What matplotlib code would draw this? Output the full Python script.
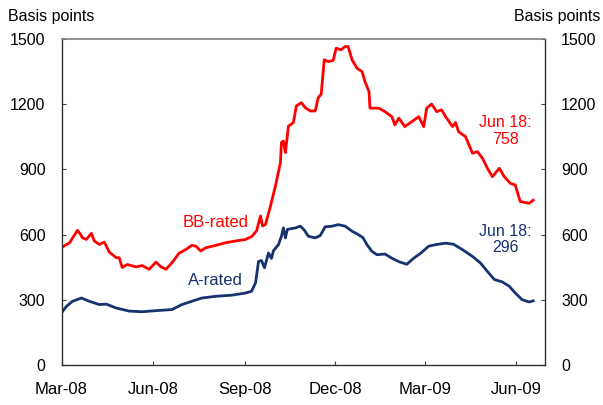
import matplotlib.pyplot as plt
import matplotlib.dates as mdates
import pandas as pd

# BB-rated spread (basis points)
bb_dates = ['2008-03-01', '2008-03-05', '2008-03-09', '2008-03-14', '2008-03-17', '2008-03-20',
            '2008-03-22', '2008-03-26', '2008-03-31', '2008-04-03', '2008-04-08', '2008-04-13',
            '2008-04-18', '2008-04-25', '2008-04-28', '2008-05-01', '2008-05-06', '2008-05-15',
            '2008-05-21', '2008-05-28', '2008-06-04', '2008-06-09', '2008-06-14', '2008-06-20',
            '2008-06-27', '2008-07-04', '2008-07-10', '2008-07-14', '2008-07-19', '2008-07-24',
            '2008-08-03', '2008-08-13', '2008-08-23', '2008-09-02', '2008-09-08', '2008-09-13',
            '2008-09-17', '2008-09-19', '2008-09-22', '2008-09-27', '2008-10-02', '2008-10-07',
            '2008-10-08', '2008-10-10', '2008-10-12', '2008-10-13', '2008-10-15', '2008-10-20',
            '2008-10-23', '2008-10-28', '2008-11-01', '2008-11-06', '2008-11-11', '2008-11-14',
            '2008-11-17', '2008-11-20', '2008-11-24', '2008-11-29', '2008-12-02', '2008-12-07',
            '2008-12-11', '2008-12-14', '2008-12-18', '2008-12-23', '2008-12-28', '2008-12-31',
            '2009-01-04', '2009-01-05', '2009-01-14', '2009-01-20', '2009-01-27', '2009-01-30',
            '2009-02-03', '2009-02-09', '2009-02-16', '2009-02-23', '2009-02-28', '2009-03-03',
            '2009-03-08', '2009-03-13', '2009-03-18', '2009-03-22', '2009-03-29', '2009-04-01',
            '2009-04-04', '2009-04-11', '2009-04-18', '2009-04-23', '2009-04-28', '2009-05-03',
            '2009-05-08', '2009-05-15', '2009-05-20', '2009-05-26', '2009-05-31', '2009-06-05',
            '2009-06-14', '2009-06-18']
bb_values = [540, 552, 562, 598, 620, 602, 586, 578, 606, 571, 555, 566,
             520, 494, 494, 449, 463, 452, 458, 441, 474, 452, 441, 471,
             514, 532, 551, 547, 525, 540, 551, 563, 571, 578, 591, 617,
             686, 640, 647, 731, 824, 930, 1023, 1030, 977, 1015, 1098, 1115,
             1191, 1206, 1183, 1168, 1168, 1229, 1245, 1403, 1395, 1400, 1456, 1449,
             1464, 1464, 1403, 1364, 1349, 1303, 1257, 1181, 1181, 1165, 1142, 1104,
             1135, 1096, 1119, 1142, 1096, 1181, 1200, 1165, 1173, 1142, 1096, 1115,
             1073, 1050, 974, 981, 951, 905, 866, 905, 866, 836, 828, 752,
             744, 758]

# A-rated spread (basis points)
a_dates = ['2008-03-01', '2008-03-06', '2008-03-12', '2008-03-21', '2008-03-29', '2008-04-08',
           '2008-04-15', '2008-04-25', '2008-05-08', '2008-05-21', '2008-06-07', '2008-06-20',
           '2008-06-30', '2008-07-10', '2008-07-20', '2008-08-03', '2008-08-19', '2008-09-02',
           '2008-09-08', '2008-09-12', '2008-09-15', '2008-09-18', '2008-09-21', '2008-09-25',
           '2008-09-28', '2008-09-30', '2008-10-05', '2008-10-08', '2008-10-10', '2008-10-12',
           '2008-10-14', '2008-10-22', '2008-10-27', '2008-10-31', '2008-11-04', '2008-11-11',
           '2008-11-16', '2008-11-21', '2008-11-28', '2008-12-04', '2008-12-11', '2008-12-18',
           '2008-12-24', '2008-12-29', '2009-01-02', '2009-01-07', '2009-01-12', '2009-01-20',
           '2009-01-27', '2009-02-03', '2009-02-11', '2009-02-18', '2009-02-25', '2009-03-05',
           '2009-03-12', '2009-03-22', '2009-03-30', '2009-04-08', '2009-04-18', '2009-04-26',
           '2009-05-03', '2009-05-10', '2009-05-18', '2009-05-25', '2009-05-31', '2009-06-07',
           '2009-06-14', '2009-06-18']
a_values = [241, 271, 294, 309, 294, 279, 281, 263, 249, 246, 252, 256,
            279, 294, 309, 317, 322, 332, 340, 379, 477, 481, 448, 516,
            491, 526, 554, 593, 631, 585, 624, 631, 639, 621, 593, 585,
            596, 636, 639, 646, 639, 616, 601, 586, 554, 523, 508, 511,
            492, 476, 464, 492, 515, 547, 554, 561, 556, 531, 500, 470,
            431, 394, 383, 363, 332, 301, 291, 296]

y_ticks = [0, 300, 600, 900, 1200, 1500]
x_ticks = ['2008-03-01', '2008-06-01', '2008-09-01', '2008-12-01', '2009-03-01', '2009-06-01']

red = '#FF0000'
navy = '#17336E'

plt.rcParams['font.family'] = 'Liberation Sans'

fig = plt.figure(figsize=(6.03, 4.05), dpi=100)
ax = fig.add_axes([0.102, 0.098, 0.802, 0.8065])

ax.plot(pd.to_datetime(bb_dates), bb_values, color=red, linewidth=2.0)
ax.plot(pd.to_datetime(a_dates), a_values, color=navy, linewidth=2.0)

ax.set_xlim(pd.Timestamp('2008-03-01'), pd.Timestamp('2009-06-30'))
ax.set_ylim(0, 1500)
ax.set_yticks(y_ticks)
ax.set_xticks(pd.to_datetime(x_ticks))
ax.xaxis.set_major_formatter(mdates.DateFormatter('%b-%y'))

ax.tick_params(axis='y', direction='in', length=3, width=0.8, color='#404040',
               left=True, right=True, labelleft=True, labelright=True,
               labelsize=11.5, pad=11.5)
ax.tick_params(axis='x', direction='in', length=3, width=0.8, color='#404040',
               labelsize=12, pad=12)

for side in ['left', 'bottom', 'right']:
    ax.spines[side].set_color('#303030')
    ax.spines[side].set_linewidth(1.0)
ax.spines['top'].set_color('#808080')
ax.spines['top'].set_linewidth(1.2)

# series labels
ax.text(pd.Timestamp('2008-08-03'), 657, 'BB-rated', color=red, fontsize=12,
        ha='center', va='center')
ax.text(pd.Timestamp('2008-08-03'), 388, 'A-rated', color=navy, fontsize=12,
        ha='center', va='center')
ax.text(pd.Timestamp('2009-05-21'), 1076, 'Jun 18:\n758', color=red, fontsize=11.5,
        ha='center', va='center', linespacing=1.1)
ax.text(pd.Timestamp('2009-05-21'), 576, 'Jun 18:\n296', color=navy, fontsize=11.5,
        ha='center', va='center', linespacing=1.1)

fig.text(8 / 603, 1 - 21 / 405, 'Basis points', fontsize=11.5, ha='left', va='baseline')
fig.text(600 / 603, 1 - 21 / 405, 'Basis points', fontsize=11.5, ha='right', va='baseline')

fig.savefig('out.png', dpi=100)
